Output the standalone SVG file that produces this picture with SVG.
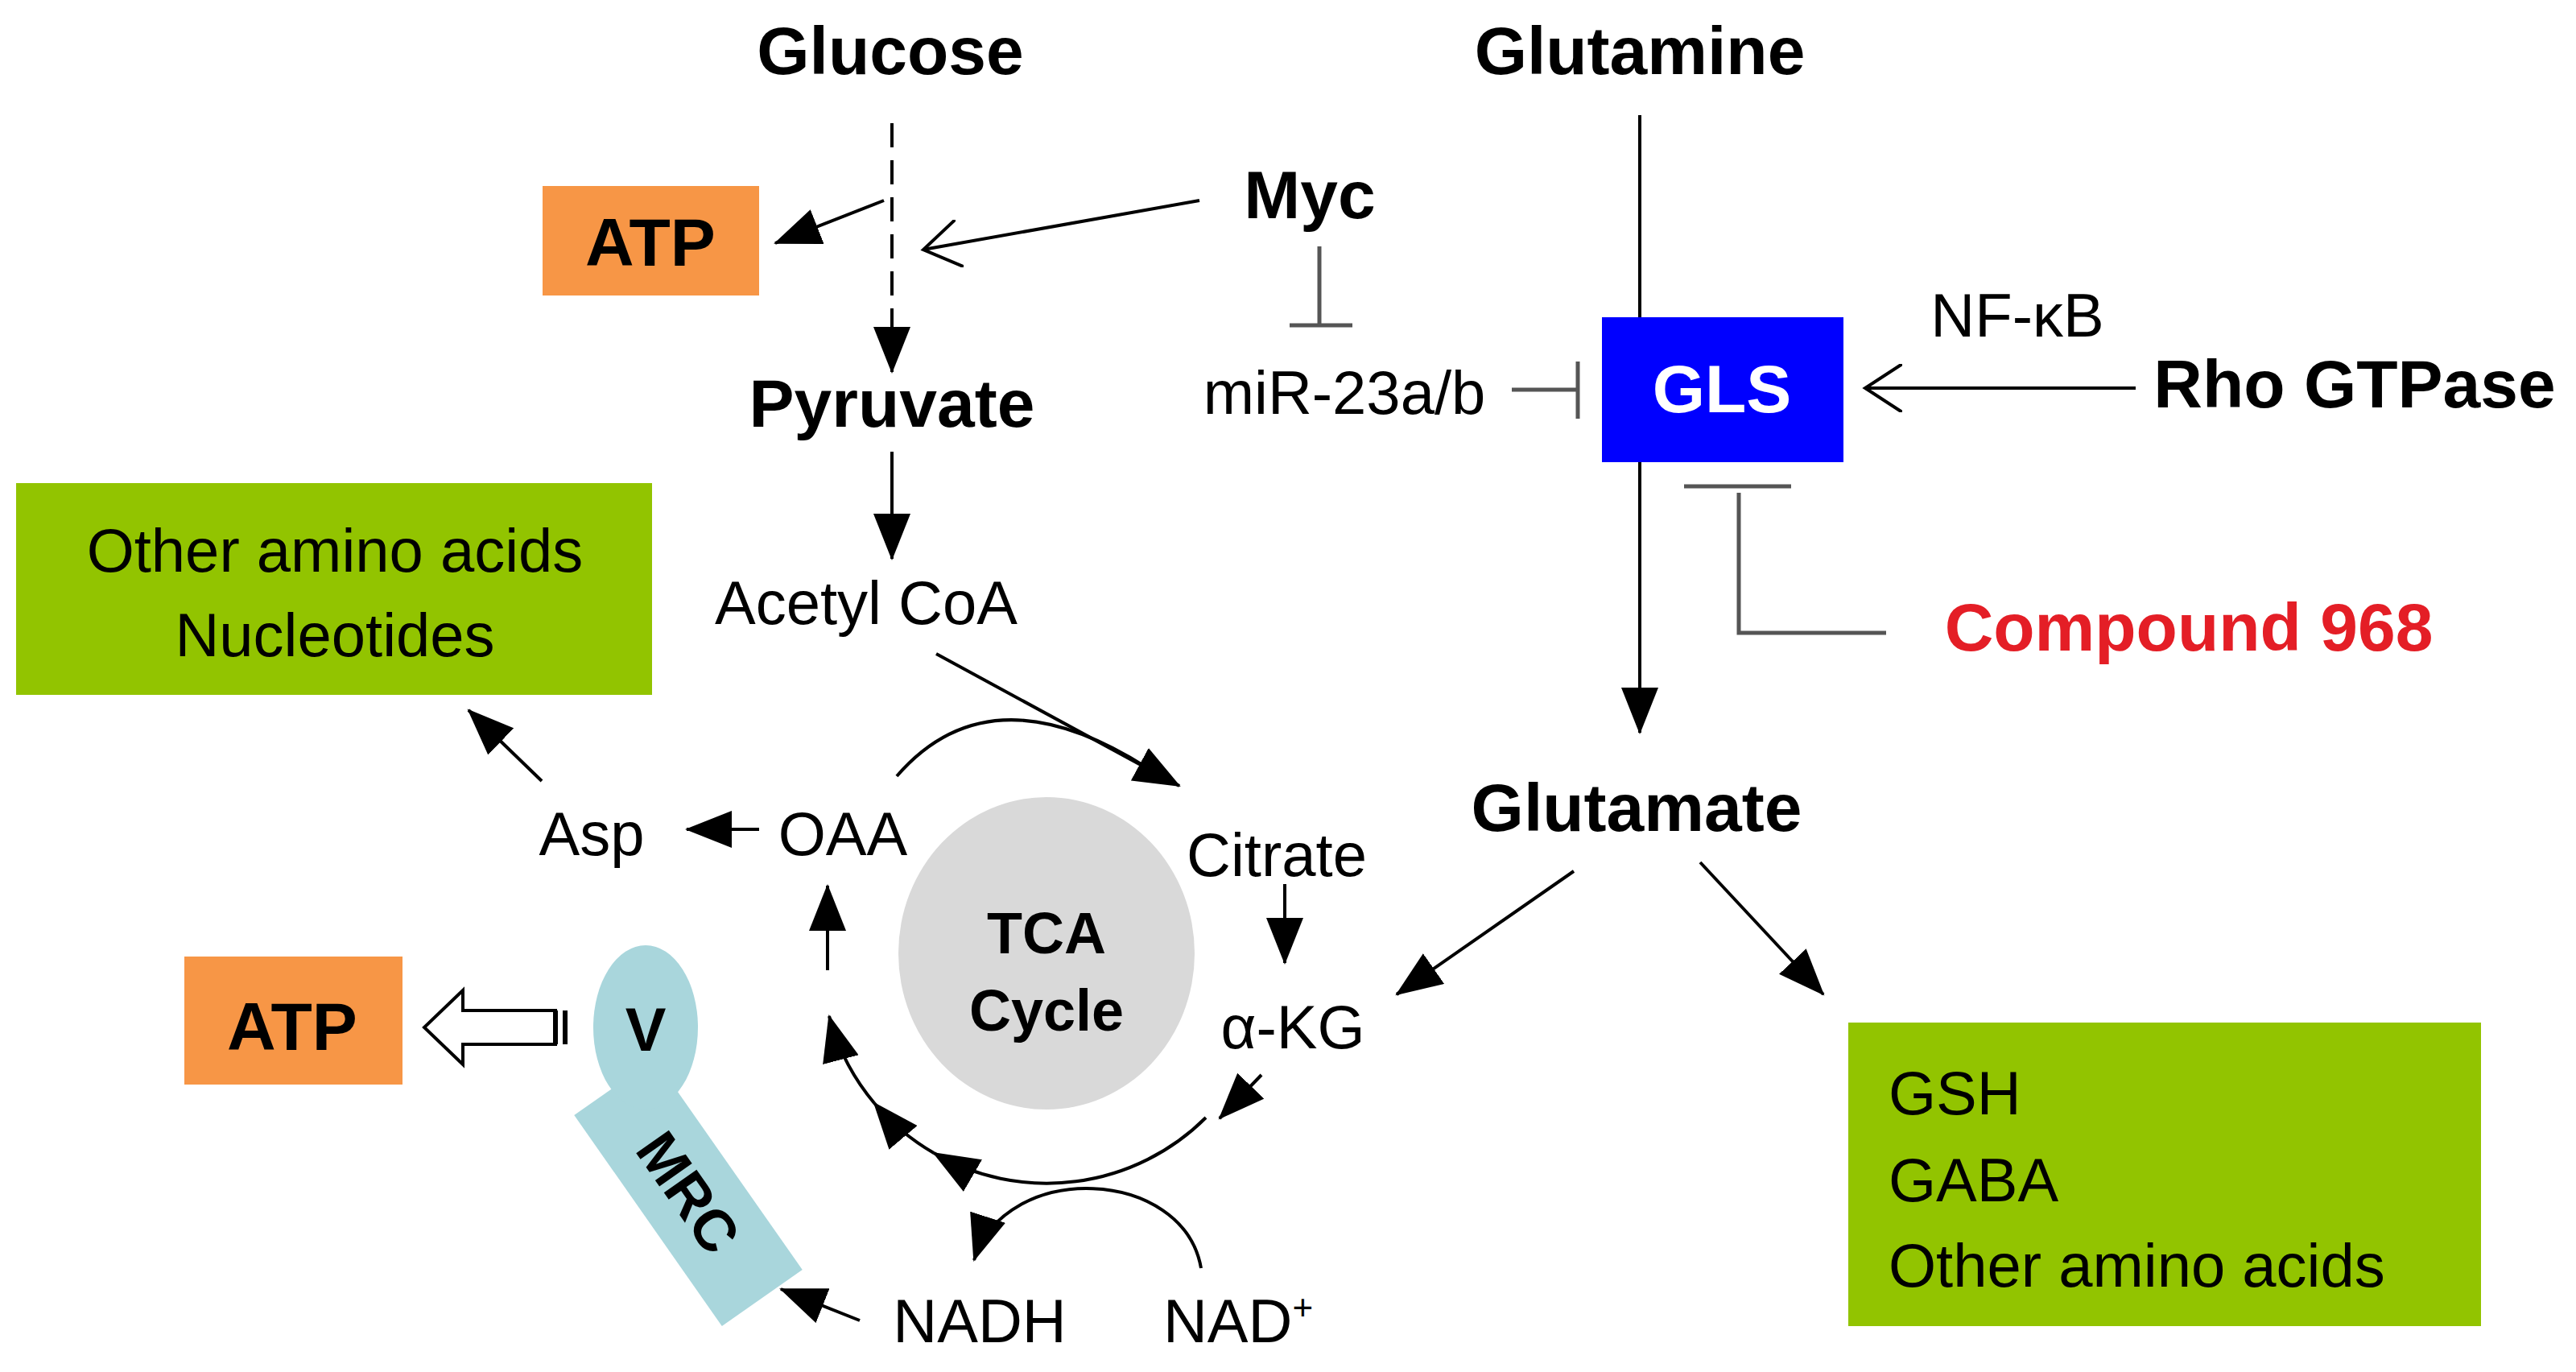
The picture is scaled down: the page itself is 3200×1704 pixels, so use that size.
<svg xmlns="http://www.w3.org/2000/svg" width="3200" height="1704" viewBox="0 0 3200 1704">
<defs>
<style>
.t{font-family:"Liberation Sans",Arial,sans-serif;font-size:76px;fill:#000;text-anchor:middle}
.b{font-weight:bold;font-size:84px}
.ln{stroke:#000;stroke-width:4;fill:none}
.inh{stroke:#555;stroke-width:5;fill:none}
</style>
<marker id="ah" markerUnits="userSpaceOnUse" markerWidth="60" markerHeight="46" refX="56" refY="23" orient="auto"><path d="M0,0 L58,23 L0,46 Z" fill="#000"/></marker>
<marker id="oa" markerUnits="userSpaceOnUse" markerWidth="50" markerHeight="60" refX="46" refY="30" orient="auto"><path d="M0,0 L46,30 L0,60" fill="none" stroke="#000" stroke-width="4"/></marker>
</defs>
<rect width="3200" height="1704" fill="#fff"/>
<g id="glucose"><text class="t b" x="1106" y="92">Glucose</text></g>
<g id="glutamine"><text class="t b" x="2037" y="92">Glutamine</text></g>
<g id="atp1"><rect x="674" y="231" width="269" height="136" fill="#f79646"/><text class="t b" x="808" y="330">ATP</text></g>
<g id="myc"><text class="t b" x="1627" y="271">Myc</text></g>
<g id="pyruvate"><text class="t b" x="1108" y="530">Pyruvate</text></g>
<g id="mir"><text class="t" x="1670" y="514">miR-23a/b</text></g>
<g id="gls"><rect x="1990" y="394" width="300" height="180" fill="#0000ff"/><text class="t b" x="2139" y="512" style="fill:#fff">GLS</text></g>
<g id="nfkb"><text class="t" x="2506" y="418">NF-κB</text></g>
<g id="rho"><text class="t b" x="2925" y="506">Rho GTPase</text></g>
<g id="compound"><text class="t b" x="2719" y="808" style="fill:#e41e26">Compound 968</text></g>
<g id="acetyl"><text class="t" x="1076" y="775">Acetyl CoA</text></g>
<g id="other1"><rect x="20" y="600" width="790" height="263" fill="#92c400"/><text class="t" x="416" y="710">Other amino acids</text><text class="t" x="416" y="815">Nucleotides</text></g>
<g id="glutamate"><text class="t b" x="2033" y="1032">Glutamate</text></g>
<g id="citrate"><text class="t" x="1586" y="1088">Citrate</text></g>
<g id="akg"><text class="t" x="1606" y="1302">α-KG</text></g>
<g id="oaa"><text class="t" x="1047" y="1062">OAA</text></g>
<g id="asp"><text class="t" x="735" y="1062">Asp</text></g>
<g id="tca"><ellipse cx="1300" cy="1184" rx="184" ry="194" fill="#d9d9d9"/><text class="t b" x="1300" y="1184" style="font-size:72px">TCA</text><text class="t b" x="1300" y="1280" style="font-size:72px">Cycle</text></g>
<g id="gsh"><rect x="2296" y="1270" width="786" height="377" fill="#92c400"/><text class="t" x="2346" y="1384" style="text-anchor:start">GSH</text><text class="t" x="2346" y="1492" style="text-anchor:start">GABA</text><text class="t" x="2346" y="1598" style="text-anchor:start">Other amino acids</text></g>
<g id="atp2"><rect x="229" y="1188" width="271" height="159" fill="#f79646"/><text class="t b" x="363" y="1304">ATP</text></g>
<g id="mrc">
<rect x="695" y="1420" width="320" height="122" fill="#a9d6dc" transform="rotate(55 855 1481)"/>
<ellipse cx="802" cy="1276" rx="65" ry="102" fill="#a9d6dc"/>
<text class="t b" x="802" y="1305" style="font-size:76px">V</text>
<text class="t b" x="855" y="1506" style="font-size:72px" transform="rotate(55 855 1481)">MRC</text>
</g>
<g id="nadh"><text class="t" x="1217" y="1667">NADH</text></g>
<g id="nad"><text class="t" x="1538" y="1667">NAD<tspan dy="-28" style="font-size:44px">+</tspan></text></g>
<g id="connectors">
<line class="ln" x1="1108" y1="153" x2="1108" y2="420" stroke-dasharray="30,16"/>
<line class="ln" x1="1108" y1="410" x2="1108" y2="462" marker-end="url(#ah)"/>
<line class="ln" x1="1098" y1="249" x2="963" y2="302" marker-end="url(#ah)"/>
<line class="ln" x1="1490" y1="249" x2="1147" y2="310" marker-end="url(#oa)"/>
<line class="inh" x1="1639" y1="306" x2="1639" y2="404"/><line class="inh" x1="1602" y1="404" x2="1680" y2="404"/>
<line class="inh" x1="1878" y1="484" x2="1960" y2="484"/><line class="inh" x1="1960" y1="449" x2="1960" y2="520"/>
<line class="ln" x1="2653" y1="482" x2="2317" y2="482" marker-end="url(#oa)"/>
<line class="ln" x1="2037" y1="143" x2="2037" y2="394"/>
<line class="ln" x1="2037" y1="574" x2="2037" y2="910" marker-end="url(#ah)"/>
<line class="inh" x1="2092" y1="604" x2="2225" y2="604"/>
<polyline class="inh" points="2160,612 2160,786 2343,786"/>
<line class="ln" x1="1108" y1="561" x2="1108" y2="694" marker-end="url(#ah)"/>
<line class="ln" x1="1163" y1="812" x2="1465" y2="976" marker-end="url(#ah)"/>
<path class="ln" d="M1114,964 Q1230,830 1424,953"/>
<line class="ln" x1="1596" y1="1098" x2="1596" y2="1196" marker-end="url(#ah)"/>
<line class="ln" x1="943" y1="1030" x2="853" y2="1030" marker-end="url(#ah)"/>
<line class="ln" x1="673" y1="970" x2="582" y2="882" marker-end="url(#ah)"/>
<line class="ln" x1="1955" y1="1082" x2="1735" y2="1235" marker-end="url(#ah)"/>
<line class="ln" x1="2112" y1="1071" x2="2265" y2="1235" marker-end="url(#ah)"/>
<line class="ln" x1="1567" y1="1335" x2="1515" y2="1389" marker-end="url(#ah)"/>
<path class="ln" d="M1498,1388 A280,280 0 0 1 1160,1432" marker-end="url(#ah)"/>
<path class="ln" d="M1160,1432 A280,280 0 0 1 1086,1370" marker-end="url(#ah)"/>
<path class="ln" d="M1086,1370 A280,280 0 0 1 1030,1262" marker-end="url(#ah)"/>
<line class="ln" x1="1028" y1="1205" x2="1028" y2="1100" marker-end="url(#ah)"/>
<path class="ln" d="M1492,1575 C1470,1450 1250,1440 1210,1565" marker-end="url(#ah)"/>
<line class="ln" x1="1068" y1="1640" x2="970" y2="1601" marker-end="url(#ah)"/>
<path d="M690,1255 L575,1255 L575,1230 L527,1276 L575,1322 L575,1297 L690,1297 Z" fill="#fff" stroke="#000" stroke-width="4"/>
<line x1="690" y1="1255" x2="690" y2="1297" stroke="#000" stroke-width="6"/>
<line x1="702" y1="1255" x2="702" y2="1297" stroke="#000" stroke-width="6"/>
</g>
</svg>
